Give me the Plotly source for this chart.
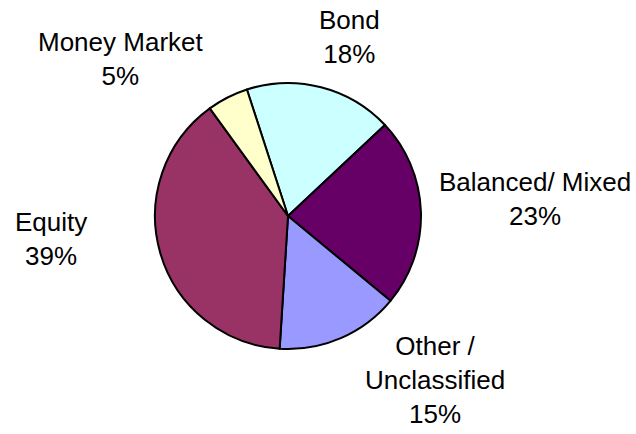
import plotly.graph_objects as go

categories = ["Bond", "Balanced/ Mixed", "Other /<br>Unclassified", "Equity", "Money Market"]
values = [18, 23, 15, 39, 5]
colors = ["#CCFFFF", "#660066", "#9999FF", "#993366", "#FFFFCC"]

# label centre positions in pixels (x from left, y from top)
label_px = [(349, 37), (535, 199), (435, 380), (51, 239), (120, 59)]

W, H = 636, 434
cx, cy, r = 288, 216, 133

fig = go.Figure(go.Pie(
    labels=categories,
    values=values,
    sort=False,
    direction="clockwise",
    rotation=-18,
    marker=dict(colors=colors, line=dict(color="black", width=2)),
    textinfo="none",
    showlegend=False,
    domain=dict(x=[(cx - r) / W, (cx + r) / W], y=[(H - cy - r) / H, (H - cy + r) / H]),
))

for cat, val, (px, py) in zip(categories, values, label_px):
    fig.add_annotation(
        x=px / W, y=1 - py / H, xref="paper", yref="paper",
        text=f"{cat}<br>{val}%", showarrow=False,
        xanchor="center", yanchor="middle", align="center",
        font=dict(family="Liberation Sans, Arial", size=26, color="black"),
    )

fig.update_layout(
    width=W, height=H,
    margin=dict(l=0, r=0, t=0, b=0),
    paper_bgcolor="white", plot_bgcolor="white",
)

fig.write_html("out.html", config={"displayModeBar": False},
               post_script="document.body.style.margin='0';")
